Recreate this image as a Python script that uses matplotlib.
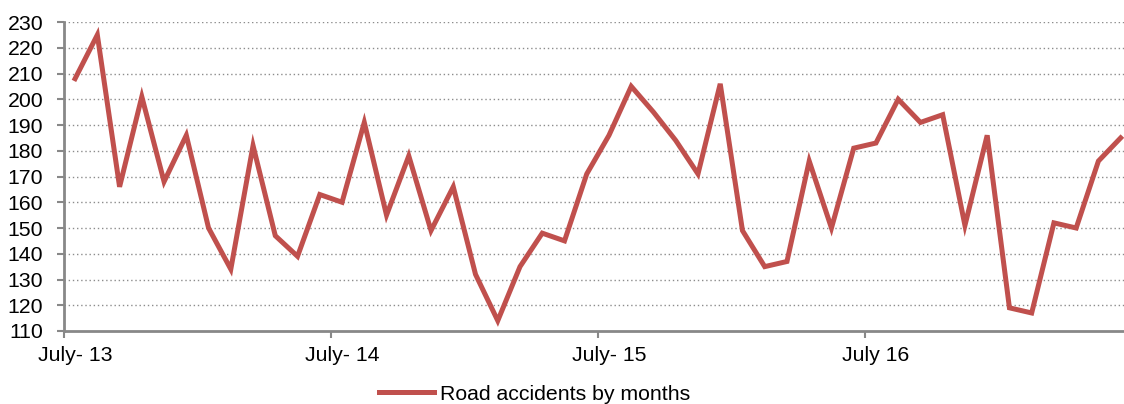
import matplotlib.pyplot as plt

# Monthly road accidents, July 2013 to June 2017
accidents = [208, 225, 166, 201, 168, 186, 150, 134, 182, 147, 139, 163,
             160, 191, 155, 178, 149, 166, 132, 114, 135, 148, 145, 171,
             186, 205, 195, 184, 171, 206, 149, 135, 137, 176, 150, 181,
             183, 200, 191, 194, 151, 186, 119, 117, 152, 150, 176, 185]
months = list(range(len(accidents)))

# Labels shown on the x axis (every 12 months)
label_positions = [0, 12, 24, 36]
label_texts = ['July- 13', 'July- 14', 'July- 15', 'July 16']
y_ticks = list(range(110, 231, 10))

plt.rcParams['font.family'] = ['Liberation Sans', 'DejaVu Sans']
font_size = 15.3

fig = plt.figure(figsize=(11.24, 4.04), dpi=100)
ax = fig.add_axes([0.0569, 0.1807, 0.9431, 0.7648])

# Dotted horizontal grid
for y in y_ticks[1:]:
    ax.axhline(y, color='#8c8c8c', linewidth=1, linestyle=(0, (1, 2)), zorder=1)

ax.plot(months, accidents, color='#C0504D', linewidth=3.6, label='Road accidents by months',
        solid_joinstyle='miter', zorder=3)

ax.set_xlim(-0.5, 47.15)
ax.set_ylim(110, 230)

# Y axis
ax.set_yticks(y_ticks)
ax.tick_params(axis='y', direction='out', length=5, width=1.5, color='#888888',
               labelsize=font_size, pad=10)

# X axis: ticks between categories, labels at category centres
ax.set_xticks([-0.5, 11.5, 23.5, 35.5])
ax.set_xticklabels([])
ax.set_xticks(label_positions, minor=True)
ax.set_xticklabels(label_texts, minor=True)
ax.tick_params(axis='x', which='major', direction='out', length=5, width=1.5, color='#888888')
ax.tick_params(axis='x', which='minor', length=0, labelsize=font_size, pad=11)

for side in ['top', 'right']:
    ax.spines[side].set_visible(False)
for side in ['left', 'bottom']:
    ax.spines[side].set_color('#888888')
    ax.spines[side].set_linewidth(2)

fig.legend(loc='center', bbox_to_anchor=(0.4755, 0.024), frameon=False, fontsize=font_size,
           handlelength=2.6, handletextpad=0.24)

fig.savefig('out.png', dpi=100)
